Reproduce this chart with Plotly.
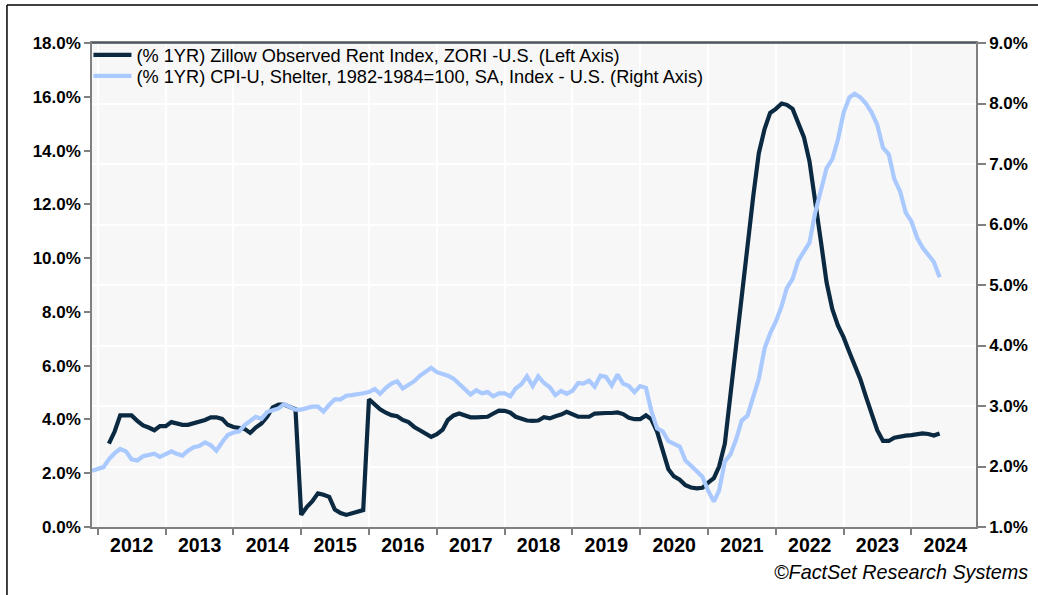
import pandas as pd
import plotly.graph_objects as go

# Zillow ZORI YoY (%), monthly from Mar 2012 to Jun 2024 (left axis)
zori_start = "2012-03-01"
zori = [3.1, 3.55, 4.15, 4.15, 4.15, 3.95, 3.78, 3.7, 3.6, 3.75,
        3.75, 3.9, 3.85, 3.8, 3.8, 3.85, 3.9, 3.98, 4.08, 4.08,
        4.02, 3.8, 3.72, 3.68, 3.65, 3.5, 3.7, 3.85, 4.1, 4.45,
        4.55, 4.55, 4.45, 4.38, 0.45, 0.75, 0.95, 1.25, 1.2, 1.12,
        0.65, 0.52, 0.45, 0.5, 0.57, 0.63, 4.75, 4.55, 4.38, 4.25,
        4.16, 4.12, 3.98, 3.9, 3.72, 3.6, 3.48, 3.35, 3.45, 3.62,
        3.98, 4.15, 4.22, 4.15, 4.08, 4.08, 4.08, 4.1, 4.22, 4.33,
        4.32, 4.25, 4.1, 4.03, 3.96, 3.95, 3.96, 4.08, 4.04, 4.12,
        4.18, 4.28, 4.2, 4.1, 4.1, 4.1, 4.22, 4.24, 4.24, 4.24,
        4.26, 4.2, 4.06, 4.01, 4.01, 4.15, 4.0, 3.55, 2.88, 2.15,
        1.88, 1.76, 1.55, 1.47, 1.44, 1.46, 1.65, 1.82, 2.25, 3.1,
        4.9, 6.8, 8.6, 10.4, 12.3, 13.9, 14.8, 15.4, 15.55, 15.75,
        15.7, 15.55, 15.0, 14.5, 13.6, 12.2, 10.6, 9.1, 8.1, 7.5,
        7.05, 6.5, 6.0, 5.5, 4.85, 4.2, 3.6, 3.2, 3.2, 3.32,
        3.38, 3.4, 3.42, 3.47, 3.48, 3.46, 3.4, 3.48]

# CPI-U Shelter YoY (%), monthly from Dec 2011 to Jun 2024 (right axis)
cpi_start = "2011-12-01"
cpi = [1.93, 1.96, 1.99, 2.12, 2.22, 2.29, 2.25, 2.12, 2.10, 2.17,
       2.19, 2.21, 2.16, 2.2, 2.25, 2.21, 2.18, 2.26, 2.32, 2.34,
       2.40, 2.35, 2.26, 2.4, 2.52, 2.56, 2.58, 2.68, 2.75, 2.82,
       2.79, 2.9, 2.93, 2.96, 3.03, 2.99, 2.94, 2.94, 2.97, 2.99,
       2.99, 2.91, 3.02, 3.11, 3.11, 3.17, 3.18, 3.19, 3.21, 3.23,
       3.28, 3.2, 3.3, 3.37, 3.41, 3.29, 3.35, 3.41, 3.5, 3.56,
       3.63, 3.56, 3.53, 3.5, 3.45, 3.36, 3.27, 3.19, 3.26, 3.21,
       3.23, 3.16, 3.21, 3.21, 3.16, 3.29, 3.36, 3.49, 3.33, 3.49,
       3.38, 3.31, 3.18, 3.25, 3.2, 3.25, 3.38, 3.37, 3.42, 3.32,
       3.5, 3.48, 3.34, 3.52, 3.37, 3.33, 3.23, 3.33, 3.3, 2.92,
       2.63, 2.58, 2.42, 2.38, 2.33, 2.1, 2.0, 1.92, 1.83, 1.6,
       1.42, 1.6, 2.08, 2.2, 2.45, 2.76, 2.84, 3.15, 3.45, 3.95,
       4.2, 4.4, 4.65, 4.95, 5.1, 5.4, 5.55, 5.7, 6.2, 6.6,
       6.93, 7.08, 7.4, 7.85, 8.1, 8.16, 8.1, 8.0, 7.85, 7.65,
       7.27, 7.16, 6.75, 6.55, 6.2, 6.05, 5.78, 5.62, 5.5, 5.38,
       5.13]

zori_name = "(% 1YR) Zillow Observed Rent Index, ZORI -U.S. (Left Axis)"
cpi_name = "(% 1YR) CPI-U, Shelter, 1982-1984=100, SA, Index - U.S. (Right Axis)"
left_ticks = [0, 2, 4, 6, 8, 10, 12, 14, 16, 18]
right_ticks = [1, 2, 3, 4, 5, 6, 7, 8, 9]

zori_dates = pd.date_range(zori_start, periods=len(zori), freq="MS")
cpi_dates = pd.date_range(cpi_start, periods=len(cpi), freq="MS")

DARK = "#0B2A42"
LIGHT = "#A9C9FF"
FONT = "Liberation Sans, Arial, sans-serif"

fig = go.Figure()
fig.add_trace(go.Scatter(x=cpi_dates, y=cpi, name=cpi_name, mode="lines",
                         line=dict(color=LIGHT, width=4.2), yaxis="y2",
                         legend="legend2"))
fig.add_trace(go.Scatter(x=zori_dates, y=zori, name=zori_name, mode="lines",
                         line=dict(color=DARK, width=4.2), yaxis="y",
                         legend="legend"))

leg_common = dict(xanchor="left", yanchor="middle", bgcolor="rgba(0,0,0,0)",
                  font=dict(size=18.2, color="black", family=FONT),
                  itemwidth=38, borderwidth=0)

fig.update_layout(
    width=1038, height=595,
    margin=dict(l=92, r=62, t=43, b=68, autoexpand=False),
    paper_bgcolor="white",
    plot_bgcolor="#F7F7F7",
    font=dict(family=FONT, color="black"),
    showlegend=True,
    legend=dict(x=-0.004, y=0.9752, **leg_common),
    legend2=dict(x=-0.004, y=0.9318, **leg_common),
    xaxis=dict(type="date", range=["2011-12-01", "2024-12-14"],
               dtick="M12", tick0="2012-01-01", ticklabelmode="period",
               tickformat="%Y", ticks="outside", ticklen=6, tickcolor="#808080",
               tickwidth=1.5, automargin=False, ticklabelstandoff=-6,
               showgrid=True, gridcolor="white", gridwidth=1.5,
               showline=True, linecolor="#808080", linewidth=1.5, mirror=True,
               tickfont=dict(size=19.5, family=FONT, color="black", weight="bold"),
               zeroline=False),
    yaxis=dict(range=[0, 18], tickvals=left_ticks,
               ticktext=[f"{v:.1f}%" for v in left_ticks], automargin=False,
               ticks="outside", ticklen=6, tickcolor="#808080", tickwidth=1.5,
               showgrid=False, showline=True, linecolor="#808080", linewidth=1.5,
               tickfont=dict(size=17, family=FONT, color="black", weight="bold"),
               zeroline=False),
    yaxis2=dict(range=[1, 9], tickvals=right_ticks,
                ticktext=[f"{v:.1f}%" for v in right_ticks], automargin=False,
                overlaying="y", side="right",
                ticks="outside", ticklen=8, tickcolor="#808080", tickwidth=1.5,
                showgrid=True, gridcolor="white", gridwidth=1.5,
                showline=True, linecolor="#808080", linewidth=1.5,
                tickfont=dict(size=17, family=FONT, color="black", weight="bold"),
                zeroline=False),
    shapes=[
        dict(type="line", xref="paper", yref="paper", x0=0, x1=1,
             y0=1, y1=1, line=dict(color="#3E4A56", width=1.5)),
        dict(type="line", xref="paper", yref="paper", x0=-0.0962, x1=1.2,
             y0=1.0785, y1=1.0785, line=dict(color="black", width=1.5)),
        dict(type="line", xref="paper", yref="paper", x0=-0.0962, x1=-0.0962,
             y0=1.0785, y1=-0.3, line=dict(color="black", width=1.5)),
    ],
    annotations=[
        dict(text="©FactSet Research Systems", xref="paper", yref="paper",
             x=1.0615, y=-0.094, xanchor="right", yanchor="middle",
             showarrow=False,
             font=dict(size=19.8, family=FONT, color="black", style="italic")),
    ],
)

fig.write_html("out.html",
               config={"displayModeBar": False},
               post_script="document.body.style.margin='0px';"
                           "document.body.style.padding='0px';")
